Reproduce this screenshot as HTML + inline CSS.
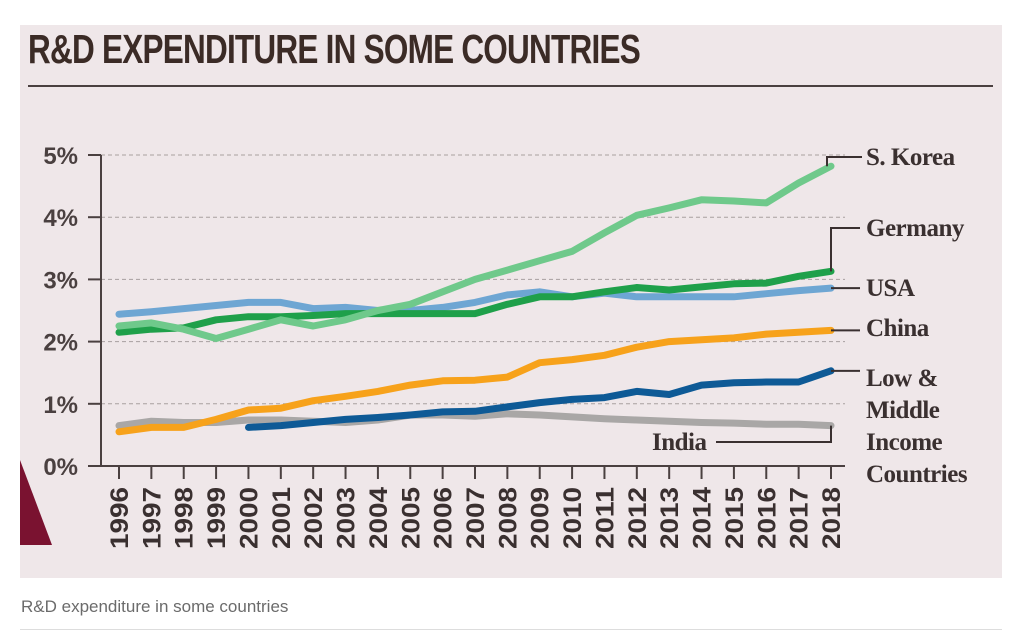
<!DOCTYPE html>
<html><head><meta charset="utf-8"><style>
body{margin:0;background:#fff;width:1023px;height:632px;overflow:hidden;font-family:"Liberation Sans",sans-serif}
#panel{position:absolute;left:20px;top:25px;width:982px;height:553px;background:#efe7e9}
#title{position:absolute;left:28px;top:26px;font-family:"Liberation Sans Narrow","Liberation Sans",sans-serif;font-weight:bold;font-size:41px;color:#3b2b26;white-space:nowrap;transform-origin:0 0;letter-spacing:-1px}
#caption{position:absolute;left:21px;top:597px;font-size:17px;color:#6b6b6b}
#rule{position:absolute;left:20px;top:629px;width:982px;height:1px;background:#ddd}
</style></head><body>
<div id="panel"></div>
<div id="title">R&amp;D EXPENDITURE IN SOME COUNTRIES</div>
<svg id="chart" width="1023" height="632" style="position:absolute;left:0;top:0"></svg>
<div id="caption">R&amp;D expenditure in some countries</div>
<div id="rule"></div>
<script>
const years=[1996,1997,1998,1999,2000,2001,2002,2003,2004,2005,2006,2007,2008,2009,2010,2011,2012,2013,2014,2015,2016,2017,2018];
const yTicks=[0,1,2,3,4,5];
const korea=[2.25,2.3,2.2,2.05,2.2,2.35,2.25,2.35,2.5,2.6,2.8,3.0,3.15,3.3,3.45,3.75,4.03,4.15,4.28,4.26,4.23,4.55,4.82];
const germany=[2.15,2.2,2.22,2.35,2.4,2.4,2.42,2.45,2.45,2.45,2.45,2.45,2.6,2.72,2.72,2.8,2.87,2.83,2.88,2.93,2.94,3.05,3.13];
const usa=[2.44,2.48,2.53,2.58,2.63,2.63,2.53,2.55,2.5,2.5,2.55,2.63,2.75,2.8,2.72,2.78,2.72,2.72,2.72,2.72,2.77,2.82,2.86];
const china=[0.55,0.62,0.62,0.75,0.9,0.93,1.05,1.12,1.2,1.3,1.37,1.38,1.43,1.66,1.71,1.78,1.91,2.0,2.03,2.06,2.12,2.15,2.18];
const lowmid=[null,null,null,null,0.62,0.65,0.7,0.75,0.78,0.82,0.87,0.88,0.95,1.02,1.07,1.1,1.2,1.15,1.3,1.34,1.35,1.35,1.53];
const india=[0.65,0.72,0.7,0.7,0.74,0.74,0.72,0.7,0.74,0.82,0.82,0.8,0.84,0.82,0.79,0.76,0.74,0.72,0.7,0.69,0.67,0.67,0.65];

const svg=document.getElementById('chart');const NS='http://www.w3.org/2000/svg';
function X(yr){return 119+(yr-1996)*(712/22);}
function Y(v){return 466-v*62.2;}
function mk(tag,attrs,parent){const e=document.createElementNS(NS,tag);for(const k in attrs)e.setAttribute(k,attrs[k]);(parent||svg).appendChild(e);return e;}
let tri=mk('polygon',{points:'20,545 20,460 52,545',fill:'#7a1230'});


yTicks.forEach(t=>{
  if(t>0){let g=mk('line',{x1:101,x2:845,y1:Y(t),y2:Y(t),stroke:'#a8a0a0','stroke-width':1,'stroke-dasharray':'4,3'});
  
  }
  let tk=mk('line',{x1:88,x2:101,y1:Y(t),y2:Y(t),stroke:'#4a4040','stroke-width':2});
  
  
  let tx=mk('text',{x:78,y:Y(t)+9,'text-anchor':'end','font-size':24,'font-weight':'bold',fill:'#4a4040','font-family':'Liberation Sans, sans-serif'});
  tx.textContent=t+'%';
  
  
});
let ya=mk('line',{x1:101,x2:101,y1:Y(5),y2:Y(0)+1,stroke:'#4a4040','stroke-width':2});


let xa=mk('line',{x1:88,x2:845,y1:Y(0),y2:Y(0),stroke:'#4a4040','stroke-width':2});


years.forEach(yr=>{
  let tk=mk('line',{x1:X(yr),x2:X(yr),y1:Y(0),y2:Y(0)+13,stroke:'#4a4040','stroke-width':2});
  
  
  let tx=mk('text',{x:0,y:0,transform:`translate(${X(yr)+9},549) rotate(-90)`,'font-size':25,'font-weight':'bold',fill:'#3a3030','font-family':'Liberation Sans, sans-serif','textLength':62,'lengthAdjust':'spacingAndGlyphs'});
  tx.textContent=yr;
  
  
});
const series=[['india',india,'#a9a7a6'],['low-middle-income',lowmid,'#0e5a96'],['china',china,'#f7a21b'],['usa',usa,'#6ea6d3'],['germany',germany,'#1fa04a'],['s-korea',korea,'#6fc98b']];
series.forEach(([n,d,c])=>{
  let pts=[];d.forEach((v,i)=>{if(v!=null)pts.push(X(years[i]).toFixed(1)+','+Y(v).toFixed(1));});
  let p=mk('polyline',{points:pts.join(' '),fill:'none',stroke:c,'stroke-width':7,'stroke-linejoin':'round','stroke-linecap':'round'});
  
  
});
const xe=X(2018);
function lead(pts,name){let l=mk('polyline',{points:pts,fill:'none',stroke:'#3a3030','stroke-width':2});
  
  }
lead(`${xe-4},${Y(korea[22])} ${xe-4},157 862,157`,'s-korea-leader');
lead(`${xe},${Y(germany[22])} ${xe},228 860,228`,'germany-leader');
lead(`${xe},${Y(usa[22])} 860,${Y(usa[22])}`,'usa-leader');
lead(`${xe},${Y(china[22])} 860,${Y(china[22])}`,'china-leader');
lead(`${xe},${Y(lowmid[22])} 860,${Y(lowmid[22])}`,'low-middle-leader');
lead(`${xe},${Y(india[22])} ${xe},442 716,442`,'india-leader');
const labs=[['S. Korea',866,165,'s-korea-label'],['Germany',866,236,'germany-label'],['USA',866,296,'usa-label'],['China',866,336,'china-label'],['Low &',866,386,'low-middle-label-1'],['Middle',866,418,'low-middle-label-2'],['Income',866,450,'low-middle-label-3'],['Countries',866,482,'low-middle-label-4'],['India',652,450,'india-label']];
labs.forEach(([t,x,y,n])=>{
  let tx=mk('text',{x:x,y:y,'font-size':25,'font-weight':'bold',fill:'#3a3030','font-family':'Liberation Serif, serif','letter-spacing':'-0.5'});
  tx.textContent=t;
  
  
});
let rl=mk('line',{x1:28,x2:993,y1:86,y2:86,stroke:'#4a4040','stroke-width':2});


const t=document.getElementById('title');const w=t.getBoundingClientRect().width;t.style.transform='scaleX('+(612/w)+')';
</script>
</body></html>
